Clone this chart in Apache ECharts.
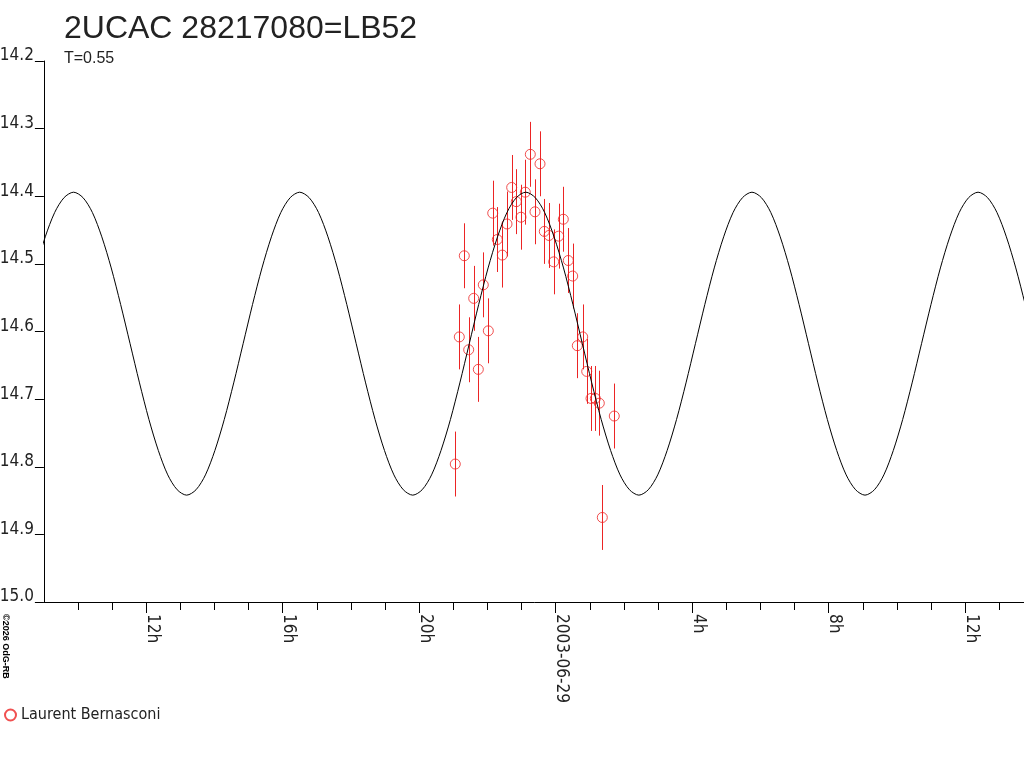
<!DOCTYPE html>
<html>
<head>
<meta charset="utf-8">
<title>2UCAC 28217080=LB52</title>
<style>
    html, body { margin: 0; padding: 0; background: #fff; }
    #container { width: 1024px; height: 768px; }
</style>
</head>
<body>
<div id="container"></div>
<script src="https://cdn.jsdelivr.net/npm/echarts@6/dist/echarts.min.js"></script>
<script>
    // time in hours from 2003-06-29 00:00 UT, magnitudes
    var obsT = [-2.943, -2.825, -2.679, -2.550, -2.403, -2.268, -2.122, -1.975, -1.846, -1.712,
                -1.565, -1.427, -1.290, -1.155, -1.017, -0.891, -0.744, -0.607, -0.460, -0.334,
                -0.196, -0.059, 0.088, 0.223, 0.369, 0.498, 0.633, 0.791, 0.909, 1.035,
                1.161, 1.278, 1.366, 1.717];
    var obsMag = [14.796, 14.608, 14.488, 14.627, 14.551, 14.656, 14.531, 14.599, 14.425, 14.464,
                  14.487, 14.441, 14.387, 14.408, 14.431, 14.394, 14.338, 14.423, 14.352, 14.452,
                  14.458, 14.497, 14.459, 14.434, 14.495, 14.518, 14.621, 14.608, 14.659, 14.699,
                  14.699, 14.706, 14.875, 14.725];
    var obsErr = [0.048, 0.048, 0.048, 0.048, 0.048, 0.048, 0.048, 0.048, 0.048, 0.048,
                  0.048, 0.048, 0.048, 0.048, 0.048, 0.048, 0.048, 0.048, 0.048, 0.048,
                  0.048, 0.048, 0.048, 0.048, 0.048, 0.048, 0.048, 0.048, 0.048, 0.048,
                  0.048, 0.048, 0.048, 0.048];

    // model light curve
    var curveT = [-15.236, -14.960, -14.684, -14.408, -14.131, -13.855, -13.579, -13.303, -13.027, -12.751,
                  -12.474, -12.198, -11.922, -11.646, -11.370, -11.094, -10.817, -10.541, -10.265, -9.989,
                  -9.713, -9.437, -9.161, -8.885, -8.608, -8.332, -8.056, -7.780, -7.504, -7.228,
                  -6.951, -6.675, -6.399, -6.123, -5.847, -5.571, -5.294, -5.018, -4.742, -4.466,
                  -4.190, -3.914, -3.638, -3.362, -3.085, -2.809, -2.533, -2.257, -1.981, -1.705,
                  -1.428, -1.152, -0.876, -0.600, -0.324, -0.048, 0.229, 0.505, 0.781, 1.057,
                  1.333, 1.610, 1.886, 2.162, 2.438, 2.714, 2.990, 3.266, 3.542, 3.819,
                  4.095, 4.371, 4.647, 4.923, 5.199, 5.476, 5.752, 6.028, 6.304, 6.580,
                  6.856, 7.133, 7.409, 7.685, 7.961, 8.237, 8.513, 8.789, 9.065, 9.342,
                  9.618, 9.894, 10.170, 10.446, 10.722, 10.999, 11.275, 11.551, 11.827, 12.103,
                  12.379, 12.656, 12.932, 13.208, 13.484, 13.760, 14.036];
    var curveMag = [14.506, 14.460, 14.424, 14.402, 14.394, 14.402, 14.424, 14.460, 14.506, 14.560,
                    14.618, 14.676, 14.730, 14.776, 14.812, 14.834, 14.842, 14.834, 14.812, 14.776,
                    14.730, 14.676, 14.618, 14.560, 14.506, 14.460, 14.424, 14.402, 14.394, 14.402,
                    14.424, 14.460, 14.506, 14.560, 14.618, 14.676, 14.730, 14.776, 14.812, 14.834,
                    14.842, 14.834, 14.812, 14.776, 14.730, 14.676, 14.618, 14.560, 14.506, 14.460,
                    14.424, 14.402, 14.394, 14.402, 14.424, 14.460, 14.506, 14.560, 14.618, 14.676,
                    14.730, 14.776, 14.812, 14.834, 14.842, 14.834, 14.812, 14.776, 14.730, 14.676,
                    14.618, 14.560, 14.506, 14.460, 14.424, 14.402, 14.394, 14.402, 14.424, 14.460,
                    14.506, 14.560, 14.618, 14.676, 14.730, 14.776, 14.812, 14.834, 14.842, 14.834,
                    14.812, 14.776, 14.730, 14.676, 14.618, 14.560, 14.506, 14.460, 14.424, 14.402,
                    14.394, 14.402, 14.424, 14.460, 14.506, 14.560, 14.618];

    var observer = 'Laurent Bernasconi';
    var dateLabel = '2003-06-29';

    var narrow = "'Liberation Sans Narrow', 'Arial Narrow', 'DejaVu Sans Condensed', sans-serif";
    var regular = "'Liberation Sans', Arial, sans-serif";

    // pixel position of 0h and pixels per hour, so all x grids line up
    var X0 = 555.7, PXH = 34.12, W = 1024;
    function gridFor(min, max, shift) {
        shift = shift || 0;
        return {
            left: X0 + min * PXH + shift, right: W - (X0 + max * PXH) - shift,
            top: 61, bottom: 166,
            containLabel: false, outerBoundsMode: 'none'
        };
    }

    var points = [], bars = [], curve = [];
    for (var i = 0; i < obsT.length; i++) {
        points.push([obsT[i], obsMag[i]]);
        bars.push([obsT[i], obsMag[i] - obsErr[i], obsMag[i] + obsErr[i]]);
    }
    for (var j = 0; j < curveT.length; j++) {
        curve.push([curveT[j], curveMag[j]]);
    }

    var hidden = { show: false };
    var myChart = echarts.init(document.getElementById('container'));
    var option = {
        animation: false,
        backgroundColor: '#fff',
        title: [
            { text: '2UCAC 28217080=LB52', left: 59, top: 8,
              textStyle: { fontFamily: regular, fontSize: 32, fontWeight: 'normal', color: '#222' } },
            { text: 'T=0.55', left: 59, top: 46,
              textStyle: { fontFamily: regular, fontSize: 16, fontWeight: 'normal', color: '#222' } }
        ],
        legend: {
            data: [observer],
            left: 4, top: 707, padding: 0,
            itemWidth: 11, itemHeight: 11, itemGap: 5,
            textStyle: { fontFamily: narrow, fontSize: 16, color: '#222' }
        },
        graphic: [{
            type: 'text', x: 10, y: 614, rotation: -Math.PI / 2,
            style: { text: '\u00a92026 OdG-RB', font: 'bold 9px sans-serif', fill: '#000', verticalAlign: 'top' }
        }],
        grid: [gridFor(-15, 14), gridFor(-14, 13), gridFor(-12, 12), gridFor(-12, 12, 6)],
        xAxis: [
            { gridIndex: 0, type: 'value', min: -15, max: 14,
              axisLine: { show: true, onZero: false, lineStyle: { color: '#000', width: 1 } },
              axisTick: hidden, axisLabel: hidden, splitLine: hidden },
            // hourly ticks
            { gridIndex: 1, type: 'value', min: -14, max: 13, interval: 1,
              axisLine: { show: false, onZero: false },
              axisTick: { show: true, length: 8, lineStyle: { color: '#000' } },
              axisLabel: hidden, splitLine: hidden },
            // 4-hour ticks
            { gridIndex: 2, type: 'value', min: -12, max: 12, interval: 4,
              axisLine: { show: false, onZero: false },
              axisTick: { show: true, length: 11, lineStyle: { color: '#000' } },
              axisLabel: hidden, splitLine: hidden },
            // labels, sitting just right of the 4-hour ticks
            { gridIndex: 3, type: 'value', min: -12, max: 12, interval: 4,
              axisLine: { show: false, onZero: false },
              axisTick: hidden,
              axisLabel: {
                  show: true, rotate: -90, margin: 12,
                  fontFamily: narrow, fontSize: 17, color: '#222',
                  formatter: function (v) {
                      if (v === 0) return dateLabel;
                      return (((v % 24) + 24) % 24) + 'h';
                  }
              },
              splitLine: hidden }
        ],
        yAxis: [
            { gridIndex: 0, type: 'value', inverse: true, min: 14.2, max: 15.0, interval: 0.1,
              axisLine: { show: true, onZero: false, lineStyle: { color: '#000', width: 1 } },
              axisTick: { show: true, length: 9, lineStyle: { color: '#000' } },
              axisLabel: {
                  margin: 10, fontFamily: narrow, fontSize: 17, color: '#222',
                  verticalAlign: 'bottom', lineHeight: 10,
                  formatter: function (v) { return v.toFixed(1); }
              },
              splitLine: hidden },
            { gridIndex: 1, type: 'value', show: false },
            { gridIndex: 2, type: 'value', show: false },
            { gridIndex: 3, type: 'value', show: false }
        ],
        series: [
            {
                name: 'model',
                type: 'line',
                xAxisIndex: 0, yAxisIndex: 0,
                data: curve,
                smooth: 0.3,
                showSymbol: false,
                symbol: 'none',
                clip: true,
                lineStyle: { color: '#000', width: 1 },
                silent: true
            },
            {
                name: 'errors',
                type: 'custom',
                xAxisIndex: 0, yAxisIndex: 0,
                data: bars,
                silent: true,
                renderItem: function (params, api) {
                    var p1 = api.coord([api.value(0), api.value(1)]);
                    var p2 = api.coord([api.value(0), api.value(2)]);
                    var x = Math.round(p1[0]) + 0.5;
                    return {
                        type: 'line',
                        shape: { x1: x, y1: p1[1], x2: x, y2: p2[1] },
                        style: { stroke: '#ec2424', lineWidth: 1 }
                    };
                }
            },
            {
                name: observer,
                type: 'scatter',
                xAxisIndex: 0, yAxisIndex: 0,
                data: points,
                symbol: 'circle',
                symbolSize: 10,
                itemStyle: { color: 'rgba(255,255,255,0)', borderColor: '#ec2424', borderWidth: 1 }
            }
        ]
    };
    myChart.setOption(option, true);
</script>
</body>
</html>
